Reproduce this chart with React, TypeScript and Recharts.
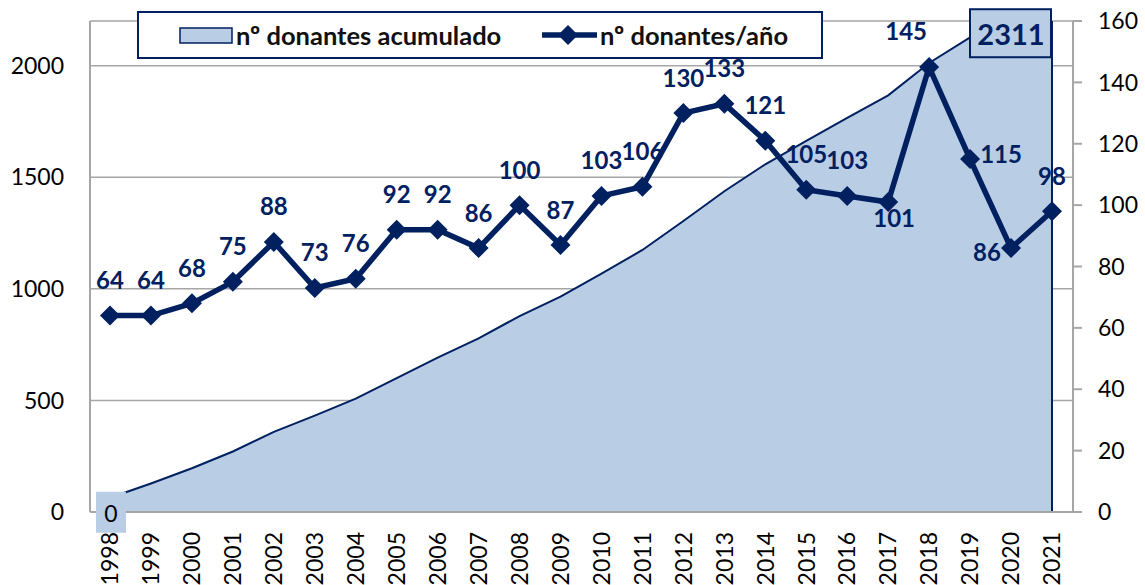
import React from 'react';
import {
  ComposedChart,
  Area,
  Line,
  XAxis,
  YAxis,
  CartesianGrid,
  Legend,
  LabelList,
  ReferenceLine,
} from 'recharts';

const YEARS = [
  '1998', '1999', '2000', '2001', '2002', '2003', '2004', '2005', '2006', '2007', '2008', '2009',
  '2010', '2011', '2012', '2013', '2014', '2015', '2016', '2017', '2018', '2019', '2020', '2021',
];
const DONORS_PER_YEAR = [
  64, 64, 68, 75, 88, 73, 76, 92, 92, 86, 100, 87, 103, 106, 130, 133, 121, 105, 103, 101, 145, 115, 86, 98,
];
const DONORS_CUMULATIVE = [
  64, 128, 196, 271, 359, 432, 508, 600, 692, 778, 878, 965, 1068, 1174, 1304, 1437, 1558, 1663, 1766,
  1867, 2012, 2127, 2213, 2311,
];
const AREA_LABELS: Record<number, string> = { 0: '0', 23: '2311' };
const LEFT_TICKS = [0, 500, 1000, 1500, 2000];
const RIGHT_TICKS = [0, 20, 40, 60, 80, 100, 120, 140, 160];
const SERIES_AREA = 'nº donantes acumulado';
const SERIES_LINE = 'nº donantes/año';

const NAVY = '#002060';
const FILL = '#B9CDE5';
const GRID = '#A6A6A6';
const FONT = 'Lato, "Liberation Sans", Arial, sans-serif';

// label offsets (style only) per point index of the yearly line
const LINE_LABEL_OFFSETS: Record<number, [number, number]> = {
  19: [6, 15],
  20: [-23, -37],
  21: [31, -6],
  22: [-24, 3],
  23: [0, -36],
};

const data = YEARS.map((year, i) => ({
  year,
  perYear: DONORS_PER_YEAR[i],
  cumulative: DONORS_CUMULATIVE[i],
}));

const Diamond = (props: any) => {
  const { cx, cy } = props;
  if (cx == null || cy == null) return null;
  const s = 10;
  return (
    <polygon
      points={`${cx},${cy - s} ${cx + s},${cy} ${cx},${cy + s} ${cx - s},${cy}`}
      fill={NAVY}
      stroke="none"
    />
  );
};

const LineLabel = (props: any) => {
  const { x, y, value, index } = props;
  const [dx, dy] = LINE_LABEL_OFFSETS[index] ?? [0, -36];
  return (
    <text
      x={x + dx}
      y={y + dy}
      textAnchor="middle"
      dominantBaseline="central"
      fill={NAVY}
      fontFamily={FONT}
      fontWeight="bold"
      fontSize={24}
    >
      {value}
    </text>
  );
};

const AreaLabel = (props: any) => {
  const { x, y, index } = props;
  const text = AREA_LABELS[index];
  if (text == null) return null;
  if (index === 0) {
    return (
      <g>
        <rect x={x - 14} y={y - 6} width={30} height={41} fill={FILL} />
        <text
          x={x + 1}
          y={y + 15.5}
          textAnchor="middle"
          dominantBaseline="central"
          fill="#000"
          fontFamily={FONT}
          fontSize={23}
        >
          {text}
        </text>
      </g>
    );
  }
  return (
    <g>
      <rect x={x - 82} y={y + 13} width={81} height={48} fill={FILL} stroke={NAVY} strokeWidth={2} />
      <text
        x={x - 41}
        y={y + 37}
        textAnchor="middle"
        dominantBaseline="central"
        fill={NAVY}
        fontFamily={FONT}
        fontWeight="bold"
        fontSize={29}
      >
        {text}
      </text>
    </g>
  );
};

const XTick = (props: any) => {
  const { x, y, payload } = props;
  return (
    <g transform={`translate(${x},${y})`}>
      <text
        transform="rotate(-90)"
        textAnchor="end"
        dy="0.36em"
        fill="#000"
        fontFamily={FONT}
        fontSize={23}
      >
        {payload.value}
      </text>
    </g>
  );
};

const renderLegend = () => (
  <svg width={686} height={48} style={{ display: 'block' }}>
    <rect x={1} y={1} width={684} height={46} fill="#fff" stroke={NAVY} strokeWidth={2} />
    <rect x={43} y={17} width={52} height={15} fill={FILL} stroke={NAVY} strokeWidth={1.5} />
    <text x={99} y={24} dominantBaseline="central" fontFamily={FONT} fontWeight="bold" fontSize={25.5} fill="#111">
      {SERIES_AREA}
    </text>
    <line x1={405} y1={24} x2={460} y2={24} stroke={NAVY} strokeWidth={5.5} />
    <polygon points="431,14 441,24 431,34 421,24" fill={NAVY} />
    <text x={463} y={24} dominantBaseline="central" fontFamily={FONT} fontWeight="bold" fontSize={25.5} fill="#111">
      {SERIES_LINE}
    </text>
  </svg>
);

export default function App() {
  return (
    <div style={{ position: 'absolute', left: 0, top: 0, width: 1145, height: 585, background: '#fff' }}>
      <ComposedChart width={1145} height={585} data={data} margin={{ top: 21, right: 0, bottom: 0, left: 0 }}>
        <CartesianGrid yAxisId="left" vertical={false} stroke={GRID} strokeWidth={1.5} />
        <XAxis
          dataKey="year"
          height={73}
          padding={{ left: 20, right: 21 }}
          interval={0}
          tickSize={0}
          tickMargin={20}
          tick={<XTick />}
          axisLine={{ stroke: GRID, strokeWidth: 2 }}
          tickLine={false}
        />
        <YAxis
          yAxisId="left"
          width={90}
          domain={[0, 2200]}
          ticks={LEFT_TICKS}
          allowDataOverflow
          tickSize={0}
          tickMargin={26}
          tickLine={false}
          axisLine={{ stroke: GRID, strokeWidth: 2 }}
          tick={{ fill: '#000', fontSize: 23, fontFamily: FONT }}
        />
        <YAxis
          yAxisId="right"
          orientation="right"
          width={72}
          domain={[0, 160]}
          ticks={RIGHT_TICKS}
          tickSize={9}
          tickMargin={16}
          tickLine={{ stroke: GRID, strokeWidth: 2 }}
          axisLine={{ stroke: GRID, strokeWidth: 2 }}
          tick={{ fill: '#000', fontSize: 23, fontFamily: FONT, textAnchor: 'start' }}
        />
        <Area
          yAxisId="left"
          type="linear"
          dataKey="cumulative"
          name={SERIES_AREA}
          fill={FILL}
          fillOpacity={1}
          stroke={NAVY}
          strokeWidth={2}
          isAnimationActive={false}
          dot={false}
          activeDot={false}
        >
          <LabelList dataKey="cumulative" content={<AreaLabel />} />
        </Area>
        <ReferenceLine yAxisId="left" x="2021" stroke={NAVY} strokeWidth={2} />
        <Line
          yAxisId="right"
          type="linear"
          dataKey="perYear"
          name={SERIES_LINE}
          stroke={NAVY}
          strokeWidth={5.5}
          dot={<Diamond />}
          activeDot={false}
          isAnimationActive={false}
        >
          <LabelList dataKey="perYear" content={<LineLabel />} />
        </Line>
        <Legend
          layout="vertical"
          align="center"
          verticalAlign="middle"
          wrapperStyle={{ position: 'absolute', top: 11, left: 137, width: 686, height: 48 }}
          content={renderLegend}
        />
      </ComposedChart>
    </div>
  );
}
